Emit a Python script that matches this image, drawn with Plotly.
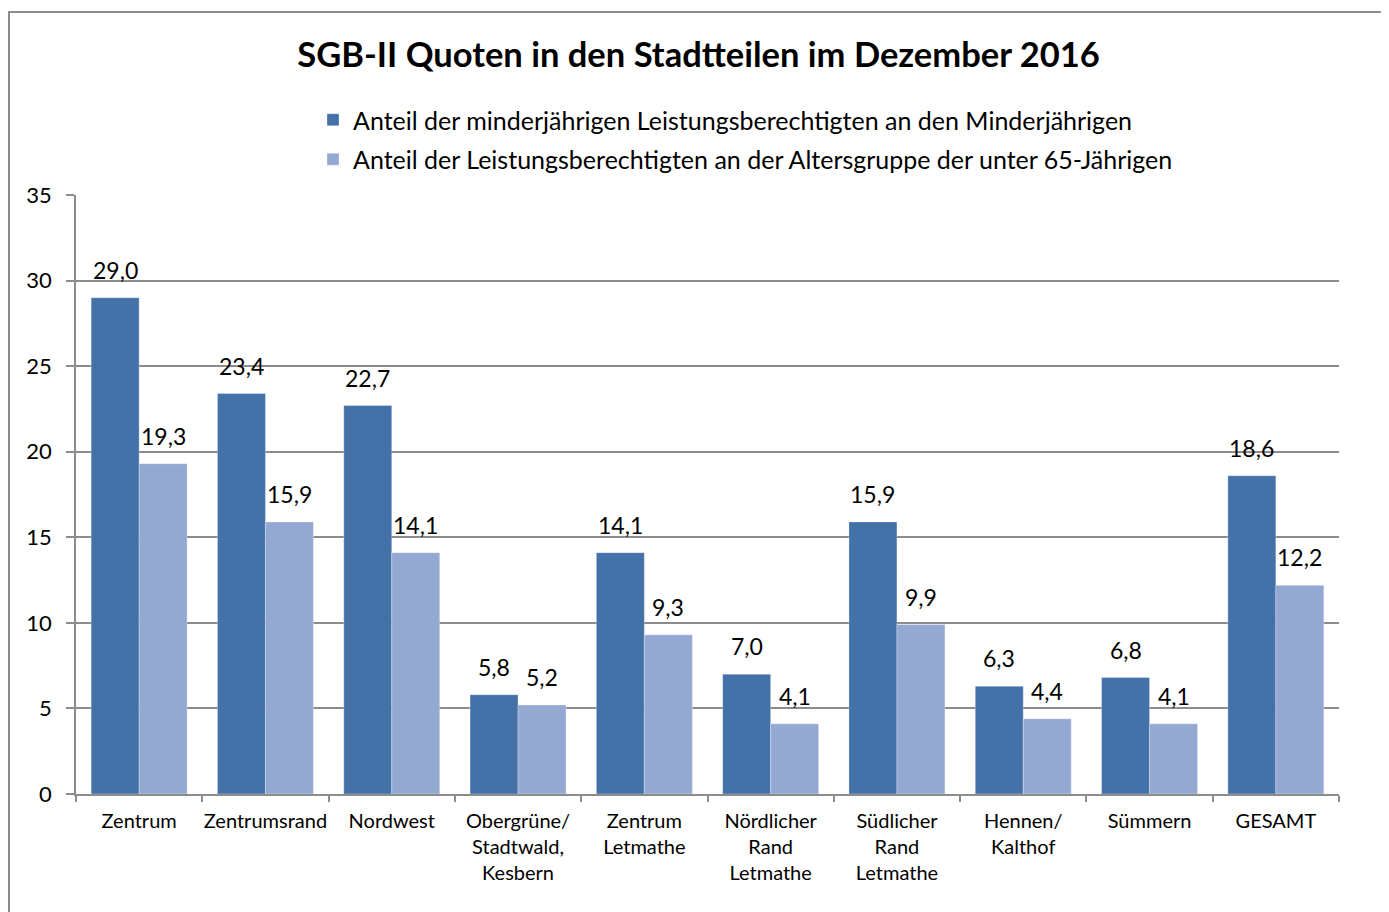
import plotly.graph_objects as go

categories = ["Zentrum", "Zentrumsrand", "Nordwest", "Obergrüne/<br>Stadtwald,<br>Kesbern",
              "Zentrum<br>Letmathe", "Nördlicher<br>Rand<br>Letmathe", "Südlicher<br>Rand<br>Letmathe",
              "Hennen/<br>Kalthof", "Sümmern", "GESAMT"]
minderjaehrige = [29.0, 23.4, 22.7, 5.8, 14.1, 7.0, 15.9, 6.3, 6.8, 18.6]
unter65 = [19.3, 15.9, 14.1, 5.2, 9.3, 4.1, 9.9, 4.4, 4.1, 12.2]
series_names = ["Anteil der minderjährigen Leistungsberechtigten an den Minderjährigen",
                "Anteil der Leistungsberechtigten an der Altersgruppe der unter 65-Jährigen"]
title_text = "SGB-II Quoten in den Stadtteilen im Dezember 2016"

FONT = "Lato, 'Open Sans', sans-serif"
# page has an 8px body margin; work in figure coordinates (reference - 8)
W, H = 1381, 904
L, R, T, B = 68, 50, 187, 118
pw, ph = W - L - R, H - T - B
BARGAP = 0.24
n_cat = len(categories)
bar_px = pw / n_cat * (1 - BARGAP) / 2

fig = go.Figure()
annotations = []
series = [(series_names[0], minderjaehrige, "#4472A8"),
          (series_names[1], unter65, "#94A9D1")]
for j, (name, vals, col) in enumerate(series):
    fig.add_trace(go.Bar(
        x=categories, y=vals, name=name, legendgroup=f"g{j}",
        marker=dict(color=col, line=dict(color="rgba(255,255,255,0.6)", width=0.5)),
    ))
    for c, v in zip(categories, vals):
        annotations.append(dict(
            x=c, y=v, xref="x", yref="y", text=f"{v:.1f}".replace(".", ","),
            showarrow=False, xanchor="center", yanchor="bottom",
            xshift=(j - 0.5) * bar_px, yshift=12,
            font=dict(size=23, color="#000", family=FONT)))

def px_x(x):
    return (x - L) / pw

def px_y(y):
    return (H - B - y) / ph

fig.update_layout(
    width=W, height=H,
    margin=dict(l=L, r=R, t=T, b=B),
    paper_bgcolor="white", plot_bgcolor="white",
    separators=",.",
    barmode="group", bargap=BARGAP, bargroupgap=0,
    font=dict(family=FONT, color="#000"),
    title=dict(text="<b>" + title_text + "</b>", x=0.5, xanchor="center",
               y=1 - 47 / H, yanchor="middle",
               font=dict(size=34.5, family=FONT, color="#000")),
    legend=dict(orientation="v", x=px_x(305), xanchor="left",
                y=px_y(89), yanchor="top", traceorder="grouped",
                font=dict(size=25, family=FONT, color="#000"),
                bgcolor="rgba(0,0,0,0)", tracegroupgap=4, itemwidth=30),
    showlegend=True,
    annotations=annotations,
    shapes=[dict(type="rect", xref="paper", yref="paper",
                 x0=px_x(1), x1=px_x(1376), y0=px_y(930), y1=px_y(4),
                 line=dict(color="#8C8C8C", width=2), fillcolor="rgba(0,0,0,0)", layer="below")],
)

fig.update_yaxes(range=[0, 35], dtick=5, tick0=0,
                 showgrid=True, gridcolor="#8C8C8C", gridwidth=1.5,
                 showline=True, linecolor="#8C8C8C", linewidth=1.5,
                 ticks="outside", ticklen=8, tickcolor="#8C8C8C", tickwidth=1.5,
                 ticklabelstandoff=10,
                 tickfont=dict(size=22, family=FONT, color="#000"),
                 zeroline=False, fixedrange=True)
fig.update_xaxes(showline=True, linecolor="#8C8C8C", linewidth=1.5,
                 ticks="outside", ticklen=6, tickcolor="#8C8C8C", tickwidth=1.5,
                 tickson="boundaries", ticklabelstandoff=8,
                 tickfont=dict(size=20, family=FONT, color="#000"),
                 tickangle=0, fixedrange=True)

fig.write_html("out.html")
